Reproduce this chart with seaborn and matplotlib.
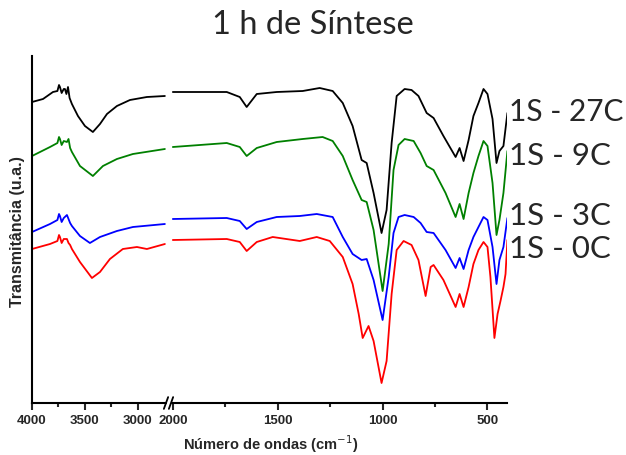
import numpy as np
import pandas as pd
import matplotlib
matplotlib.use("Agg")
import matplotlib.pyplot as plt
import seaborn as sns
from matplotlib.ticker import FixedLocator, NullFormatter, FixedFormatter

# ---------------- data ----------------
title = "1 h de Síntese"
x_label = "Número de ondas (cm$^{-1}$)"
y_label = "Transmitância (u.a.)"
series_names = ["1S - 27C", "1S - 9C", "1S - 3C", "1S - 0C"]
series_colors = ["#000000", "#008000", "#0000ff", "#ff0000"]

major_ticks = [4000, 3500, 3000, 2000, 1500, 1000, 500]
minor_ticks = [3750, 3250, 1750, 1250, 750]

# 1S - 27C
wn_27_hi = [4000, 3896, 3802, 3760, 3745, 3736, 3720, 3700, 3689, 3675, 3660, 3645, 3623,
            3566, 3500, 3425, 3358, 3292, 3198, 3075, 2915, 2745]
t_27_hi = [301, 304, 311, 312, 318, 316, 310, 314, 314, 309, 316, 305, 299,
           287, 277, 271, 279, 289, 297, 303, 306, 307]
wn_27_lo = [2000, 1743, 1681, 1648, 1600, 1505, 1381, 1300, 1238, 1190, 1143, 1100, 1076,
            1043, 1005, 981, 957, 933, 895, 862, 829, 790, 757, 710, 652, 633, 614, 590,
            567, 543, 519, 500, 476, 457, 443, 424, 405]
t_27_lo = [311, 311, 306, 296, 309, 311, 312, 315, 312, 300, 277, 243, 240,
           210, 170, 193, 260, 307, 314, 313, 307, 290, 285, 267, 246, 255, 242, 263,
           287, 300, 314, 309, 284, 240, 252, 257, 290]

# 1S - 9C
wn_9_hi = [4000, 3830, 3760, 3745, 3736, 3720, 3700, 3670, 3655, 3640, 3623,
           3547, 3425, 3330, 3198, 3047, 2745]
t_9_hi = [247, 256, 260, 266, 264, 258, 262, 261, 264, 255, 251,
          237, 227, 237, 244, 249, 254]
wn_9_lo = [2000, 1743, 1681, 1648, 1600, 1505, 1381, 1286, 1238, 1190, 1143, 1100, 1076,
           1043, 1000, 971, 948, 924, 895, 852, 819, 790, 757, 700, 652, 633, 614, 590,
           567, 543, 519, 500, 476, 457, 443, 424, 405]
t_9_lo = [256, 260, 256, 247, 255, 261, 264, 266, 262, 247, 223, 203, 201,
          173, 112, 159, 233, 258, 264, 262, 250, 237, 233, 210, 186, 199, 184, 210,
          230, 247, 262, 257, 220, 168, 183, 210, 252]

# 1S - 3C
wn_3_hi = [4000, 3830, 3760, 3745, 3736, 3720, 3700, 3670, 3655, 3640, 3623,
           3547, 3453, 3358, 3198, 3047, 2745]
t_3_hi = [171, 179, 183, 189, 187, 181, 185, 188, 184, 180, 177,
          167, 160, 166, 172, 176, 179]
wn_3_lo = [2000, 1743, 1681, 1648, 1600, 1505, 1395, 1314, 1238, 1190, 1143, 1100, 1076,
           1043, 1000, 971, 948, 924, 895, 852, 819, 790, 757, 700, 652, 633, 614, 590,
           567, 543, 519, 500, 476, 457, 443, 424, 405]
t_3_lo = [184, 185, 182, 174, 181, 186, 187, 189, 186, 166, 149, 143, 144,
          123, 83, 126, 170, 186, 188, 186, 180, 171, 170, 153, 135, 145, 134, 153,
          166, 176, 186, 183, 156, 119, 143, 156, 185]

# 1S - 0C
wn_0_hi = [4000, 3830, 3760, 3745, 3736, 3720, 3700, 3670, 3655, 3640, 3623,
           3547, 3434, 3358, 3264, 3142, 3009, 2915, 2745]
t_0_hi = [154, 159, 162, 168, 166, 160, 164, 164, 160, 158, 154,
          141, 125, 131, 144, 154, 156, 154, 159]
wn_0_lo = [2000, 1743, 1681, 1648, 1600, 1524, 1395, 1314, 1252, 1190, 1143, 1114, 1095,
           1067, 1043, 1005, 981, 957, 933, 900, 862, 829, 795, 771, 757, 710, 652, 633,
           614, 590, 567, 543, 519, 500, 486, 467, 452, 438, 424, 414, 405]
t_0_lo = [163, 164, 161, 152, 161, 166, 162, 166, 162, 146, 119, 89, 65,
          77, 62, 20, 42, 109, 153, 162, 158, 143, 107, 136, 138, 123, 96, 109,
          96, 116, 139, 153, 161, 156, 126, 65, 89, 102, 116, 129, 163]

segments = {
    "1S - 27C": [(wn_27_hi, t_27_hi), (wn_27_lo, t_27_lo)],
    "1S - 9C": [(wn_9_hi, t_9_hi), (wn_9_lo, t_9_lo)],
    "1S - 3C": [(wn_3_hi, t_3_hi), (wn_3_lo, t_3_lo)],
    "1S - 0C": [(wn_0_hi, t_0_hi), (wn_0_lo, t_0_lo)],
}

rows = []
for name in series_names:
    for k, (w, t) in enumerate(segments[name]):
        for wi, ti in zip(w, t):
            rows.append({"amostra": name, "seg": f"{name}_{k}", "wn": wi, "T": ti})
df = pd.DataFrame(rows)

# ---------------- style ----------------
sns.set_style("white")
plt.rcParams["font.family"] = ["Liberation Sans", "DejaVu Sans"]

fig = plt.figure(figsize=(6.26, 4.56), dpi=100)
ax = fig.add_axes([32 / 626, 52 / 456, 475 / 626, 347 / 456])

sns.lineplot(data=df, x="wn", y="T", hue="amostra", units="seg", estimator=None,
             sort=False, palette=dict(zip(series_names, series_colors)),
             linewidth=1.3, legend=False, ax=ax)

# broken wavenumber axis: 4000-2700 compressed, 2000-400 expanded
k_hi, k_lo = 0.106, 0.21
xp = np.array([-20000.0, 2000.0, 2700.0, 4000.0, 20000.0])
up = np.array([141 + 22000 * k_lo, 141.0, 1300 * k_hi, 0.0, -16000 * k_hi])
fp = -up

def fwd(x):
    return np.interp(np.asarray(x, dtype=float), xp, fp)

def inv(y):
    return np.interp(np.asarray(y, dtype=float), fp, xp)

ax.set_xscale("function", functions=(fwd, inv))
ax.set_xlim(4000, 407)
ax.set_ylim(0, 347)

ax.xaxis.set_major_locator(FixedLocator(major_ticks))
ax.xaxis.set_major_formatter(FixedFormatter([str(v) for v in major_ticks]))
ax.xaxis.set_minor_locator(FixedLocator(minor_ticks))
ax.xaxis.set_minor_formatter(NullFormatter())
ax.set_yticks([])

for s in ["top", "right"]:
    ax.spines[s].set_visible(False)
for s in ["left", "bottom"]:
    ax.spines[s].set_linewidth(1.5)
    ax.spines[s].set_color("black")

ax.tick_params(axis="x", which="major", direction="out", length=5, width=1.5,
               pad=3, labelsize=9.5, bottom=True)
ax.tick_params(axis="x", which="minor", direction="out", length=3, width=1.5, bottom=True)
for lab in ax.get_xticklabels():
    lab.set_fontweight("bold")

ax.set_xlabel(x_label, fontsize=10.5, fontweight="bold")
ax.xaxis.set_label_coords(0.503, -0.084)
ax.set_ylabel(y_label, fontsize=11.5, fontweight="bold")
ax.yaxis.set_label_coords(-0.015, 0.496)

# axis break marks
bx = [(166 - 32) / 475, (171 - 32) / 475]
ax.add_patch(plt.Rectangle((bx[0] + 0.002, -0.008), bx[1] - bx[0] - 0.004, 0.016,
                           transform=ax.transAxes, color="white", clip_on=False, zorder=5))
for b in bx:
    ax.plot([b - 0.0045, b + 0.0045], [-0.017, 0.017], transform=ax.transAxes,
            color="black", lw=1.3, clip_on=False, zorder=6)

# title and series labels
fig.text(313 / 626, 1 - 25 / 456, title, ha="center", va="center",
         fontsize=23.5, family=["Lato", "DejaVu Sans"])
label_y = [112, 156, 216, 249]
label_size = [21.5, 22.5, 22.5, 22.5]
for name, yy, fs in zip(series_names, label_y, label_size):
    fig.text(509 / 626, 1 - yy / 456, name, ha="left", va="center",
             fontsize=fs, family=["Lato", "DejaVu Sans"])

fig.savefig("out.png", dpi=100)
